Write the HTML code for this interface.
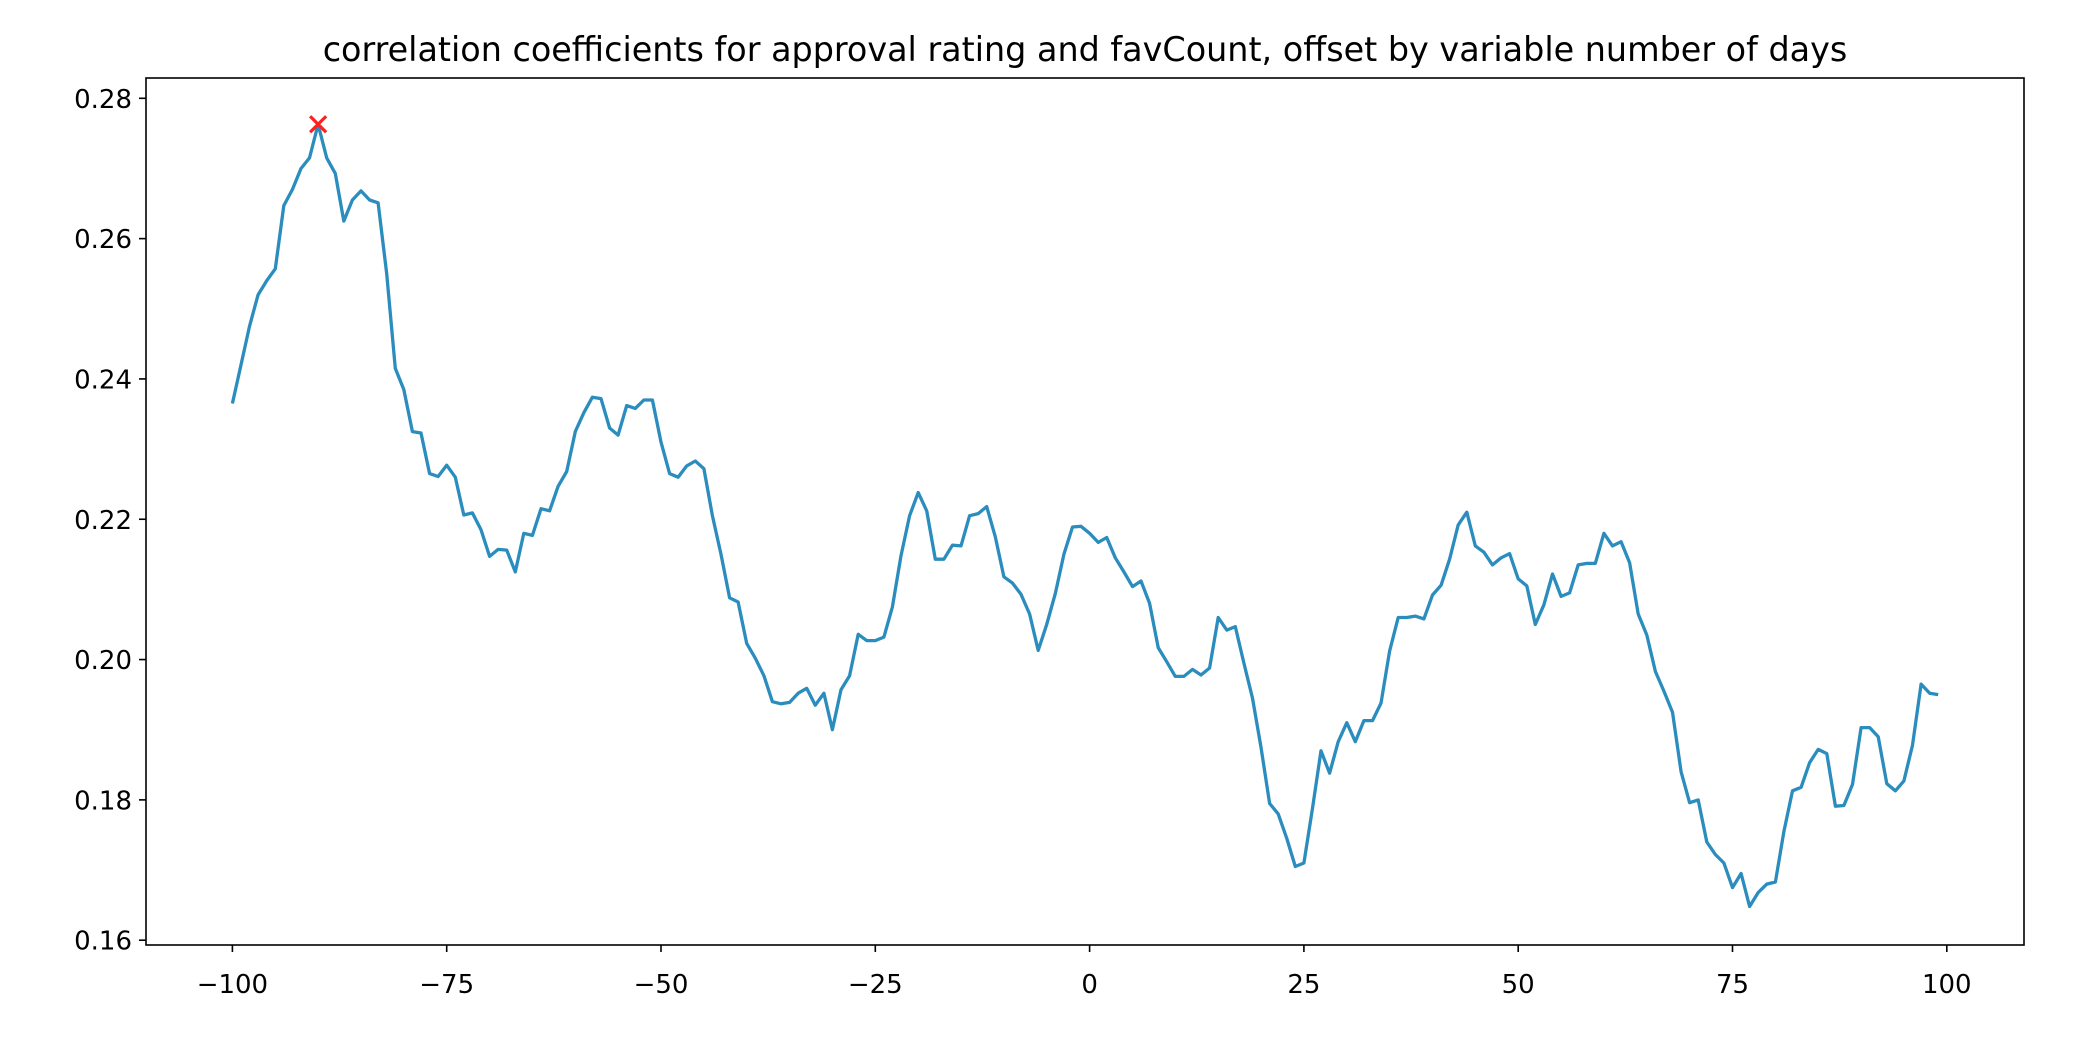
<!DOCTYPE html>
<html><head><meta charset="utf-8"><style>body{margin:0;background:#fff}svg{display:block}text{font-family:"DejaVu Sans","Liberation Sans",sans-serif;fill:#000}</style></head>
<body>
<svg id="chart" width="2082" height="1038" viewBox="0 0 2082 1038" xmlns="http://www.w3.org/2000/svg">
<rect width="2082" height="1038" fill="#fff"/>
<text x="1085" y="61" font-size="33.4" text-anchor="middle">correlation coefficients for approval rating and favCount, offset by variable number of days</text>
<g id="plot"></g>
<rect x="146" y="78" width="1878" height="867" fill="none" stroke="#000" stroke-width="1.6"/>
</svg>
<script>
const offsets = [];
for (let d = -100; d <= 99; d++) offsets.push(d);
const corrValues = [0.2365,0.242,0.2475,0.252,0.254,0.2557,0.2647,0.267,0.270,0.2715,
0.2763,0.2715,0.2693,0.2625,0.2655,0.2668,0.2655,0.2651,0.255,0.2415,
0.2385,0.2325,0.2323,0.2265,0.2261,0.2277,0.226,0.2206,0.2209,0.2185,
0.2147,0.2157,0.2156,0.2125,0.218,0.2177,0.2215,0.2212,0.2247,0.2268,
0.2325,0.2352,0.2374,0.2372,0.233,0.232,0.2362,0.2358,0.237,0.237,
0.231,0.2265,0.226,0.2276,0.2283,0.2272,0.2205,0.215,0.2088,0.2082,
0.2023,0.2002,0.1977,0.194,0.1937,0.1939,0.1952,0.1959,0.1935,0.1952,
0.190,0.1957,0.1977,0.2036,0.2027,0.2027,0.2032,0.2075,0.2148,0.2205,
0.2238,0.2212,0.2143,0.2143,0.2163,0.2162,0.2205,0.2208,0.2218,0.2175,
0.2118,0.2109,0.2093,0.2065,0.2013,0.205,0.2094,0.215,0.2189,0.219,
0.218,0.2167,0.2174,0.2145,0.2125,0.2104,0.2112,0.208,0.2017,0.1997,
0.1976,0.1976,0.1986,0.1978,0.1988,0.206,0.2042,0.2047,0.1995,0.1945,
0.1875,0.1795,0.178,0.1745,0.1705,0.171,0.1788,0.187,0.1838,0.1883,
0.191,0.1883,0.1913,0.1913,0.1938,0.2012,0.206,0.206,0.2062,0.2058,
0.2092,0.2106,0.2143,0.2192,0.221,0.2162,0.2153,0.2135,0.2145,0.2151,
0.2115,0.2105,0.205,0.2078,0.2122,0.209,0.2095,0.2135,0.2137,0.2137,
0.218,0.2162,0.2168,0.2138,0.2065,0.2035,0.1983,0.1955,0.1925,0.184,
0.1796,0.18,0.174,0.1722,0.171,0.1675,0.1695,0.1648,0.1668,0.168,
0.1683,0.1755,0.1813,0.1818,0.1853,0.1872,0.1866,0.1791,0.1792,0.1822,
0.1903,0.1903,0.189,0.1823,0.1813,0.1827,0.1878,0.1965,0.1952,0.195];
const xTickValues = [-100,-75,-50,-25,0,25,50,75,100];
const xTickLabels = ["\u2212100","\u221275","\u221250","\u221225","0","25","50","75","100"];
const yTickValues = [0.16,0.18,0.20,0.22,0.24,0.26,0.28];
const yTickLabels = ["0.16","0.18","0.20","0.22","0.24","0.26","0.28"];

const NS = "http://www.w3.org/2000/svg";
const X0 = 146, X1 = 2024, Y0 = 78, Y1 = 945;
function xScale(v){ return 232.4 + (v + 100) * (1946.8 - 232.4) / 200; }
function yScale(v){ return 940.2 - (v - 0.16) * (940.2 - 98.3) / 0.12; }
const g = document.getElementById('plot');
function mk(tag, attrs){ const e = document.createElementNS(NS, tag); for (const k in attrs) e.setAttribute(k, attrs[k]); g.appendChild(e); return e; }

xTickValues.forEach((v, i) => {
  const x = xScale(v);
  const t = mk('line', {x1:x, x2:x, y1:Y1, y2:Y1+7, stroke:'#000', 'stroke-width':1.6});
  
  
  const l = mk('text', {x:x, y:Y1+48, 'font-size':26, 'text-anchor':'middle'});
  l.textContent = xTickLabels[i];
  
  
});
yTickValues.forEach((v, i) => {
  const y = yScale(v);
  const t = mk('line', {x1:X0-7, x2:X0, y1:y, y2:y, stroke:'#000', 'stroke-width':1.6});
  
  
  const l = mk('text', {x:X0-14, y:y+9.5, 'font-size':26, 'text-anchor':'end'});
  l.textContent = yTickLabels[i];
  
  
});

const pts = offsets.map((d, i) => xScale(d).toFixed(1) + ',' + yScale(corrValues[i]).toFixed(1)).join(' ');
const line = mk('polyline', {points:pts, fill:'none', stroke:'#2b8cbe', 'stroke-width':3.3, 'stroke-linejoin':'round'});



let mi = 0;
corrValues.forEach((v, i) => { if (v > corrValues[mi]) mi = i; });
const mx = xScale(offsets[mi]), my = yScale(corrValues[mi]), s = 8;
const marker = mk('path', {d:`M${mx-s},${my-s}L${mx+s},${my+s}M${mx-s},${my+s}L${mx+s},${my-s}`, stroke:'#ff2020', 'stroke-width':3.2, fill:'none'});


</script>
</body></html>
